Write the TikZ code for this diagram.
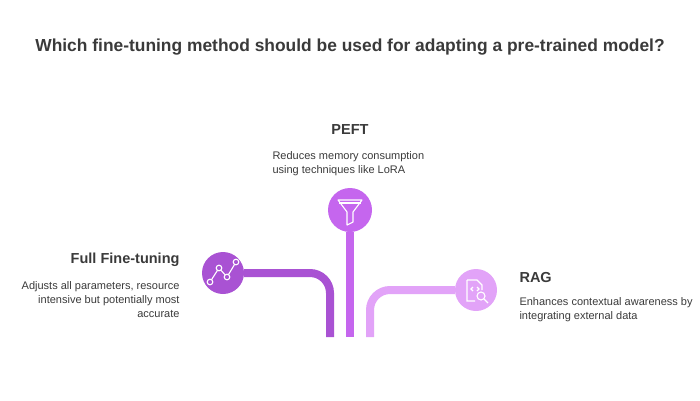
\documentclass[tikz,border=0pt]{standalone}
\usepackage{fontspec}
\setmainfont{Liberation Sans}
\definecolor{cA}{HTML}{A952D3}
\definecolor{cB}{HTML}{C566EE}
\definecolor{cC}{HTML}{E2A3F8}
\definecolor{tx}{HTML}{3A3A3A}
\begin{document}
\begin{tikzpicture}[x=1pt,y=-1pt,
  line/.style={line width=8pt,rounded corners=20pt},
  icon/.style={circle,minimum size=42pt,inner sep=0pt},
  ttl/.style={font=\bfseries\fontsize{14.5}{17}\selectfont,text=tx},
  desc/.style={font=\fontsize{11}{14}\selectfont,text=tx}]
\useasboundingbox (0,0) rectangle (700,400);
\node[ttl,font=\bfseries\fontsize{17.4}{20}\selectfont] (title) at (350,47) {Which fine-tuning method should be used for adapting a pre-trained model?};
\coordinate (e1) at (330,337);
\coordinate (e2) at (350,337);
\coordinate (e3) at (370,337);
\node[icon,fill=cA] (full) at (223,273) {};
\node[icon,fill=cB,minimum size=44pt] (peft) at (350,210) {};
\node[icon,fill=cC] (rag) at (476,290) {};
\draw[line,cA] (full.east) -| (e1);
\draw[line,cB] (peft.south) -- (e2);
\draw[line,cC] (rag.west) -| (e3);
% icons
\begin{scope}[white,line width=1.1pt]
 \draw (210,282)--(219,268)--(227,277)--(236,262);
 \foreach \p in {(210,282),(219,268),(227,277),(236,262)} \fill[cA] \p circle(2.8);
 \foreach \p in {(210,282),(219,268),(227,277),(236,262)} \draw \p circle(2.8);
 \draw[line join=round] (338,200)--(362,200)--(353,212)--(353,222)--(347,225)--(347,212)--cycle;
 \draw (339,203)--(361,203);
 \draw (467,280)--(477,280)--(482,285)--(482,290) (467,280)--(467,301)--(475,301);
 \draw (473,287)--(471,289)--(473,291) (477,287)--(479,289)--(477,291);
 \draw (481,296) circle(4); \draw (484,299)--(488,303);
\end{scope}
\node[ttl] (tp) at (350,130) {PEFT};
\node[desc,align=left,anchor=north west] (dp) at (269,148) {Reduces memory consumption\\using techniques like LoRA};
\node[ttl,anchor=east] (tf) at (183,260) {Full Fine-tuning};
\node[desc,align=right,anchor=north east] (df) at (183,278) {Adjusts all parameters, resource\\intensive but potentially most\\accurate};
\node[ttl,anchor=west] (tr) at (516,277) {RAG};
\node[desc,align=left,anchor=north west] (dr) at (516,294) {Enhances contextual awareness by\\integrating external data};
\end{tikzpicture}
\end{document}
